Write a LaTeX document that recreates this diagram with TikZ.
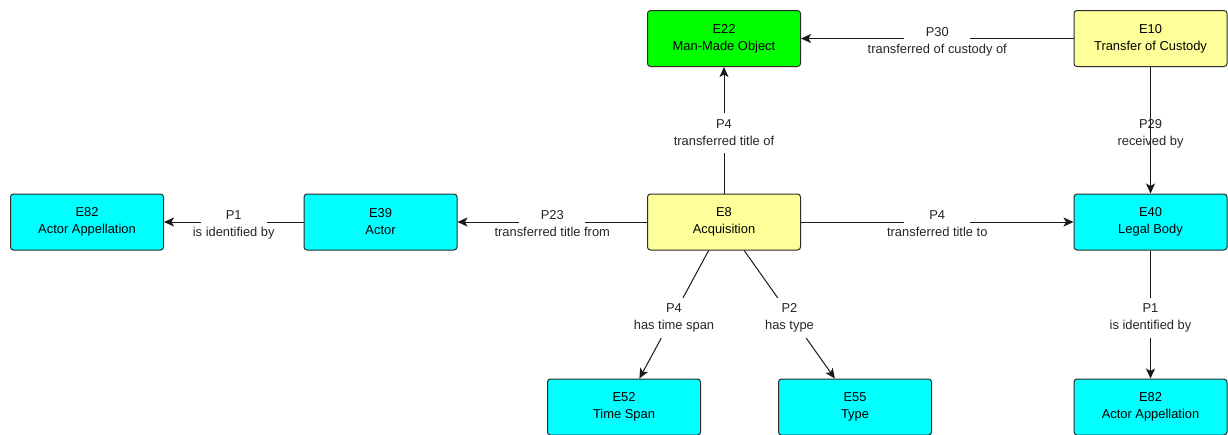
\documentclass[tikz,border=0pt]{standalone}
\usepackage{fontspec}
\setmainfont{Liberation Sans}
\usepackage{tikz}
\usetikzlibrary{arrows.meta}
\definecolor{objc}{HTML}{00FF00}
\definecolor{evtc}{HTML}{FFFF99}
\definecolor{entc}{HTML}{00FFFF}
\definecolor{edgec}{HTML}{2B2B2B}
\newcommand{\prop}[2]{\makebox[0pt]{\begin{tabular}{@{}c@{}}#1\\#2\end{tabular}}}
\tikzset{
  ent/.style={draw=edgec,line width=1pt,rounded corners=3pt,minimum width=153pt,minimum height=56pt,align=center,inner sep=0pt,font=\fontsize{12.9}{17}\selectfont,execute at begin node=\rule{0pt}{15pt}},
  ar/.style={-{Stealth[length=10pt,width=9pt,inset=2.5pt]},line width=1pt,black!90},
  rel/.style={fill=white,minimum width=66pt,minimum height=40pt,inner sep=0pt,yshift=-3pt,font=\fontsize{12.9}{17}\selectfont,text=black!85},
  relclear/.style={rel,fill=none}
}
\begin{document}
\begin{tikzpicture}[x=1pt,y=-1pt]
\path[use as bounding box,fill=white] (0,0) rectangle (1228,434);
% classes
\foreach \nm/\px/\py/\fc/\cd/\ttl in {
  e22/724/38.5/objc/E22/Man-Made Object,
  e10/1150.5/38.5/evtc/E10/Transfer of Custody,
  e82l/87/222/entc/E82/Actor Appellation,
  e39/380.5/222/entc/E39/Actor,
  e8/724/222/evtc/E8/Acquisition,
  e40/1150.5/222/entc/E40/Legal Body,
  e52/624/407/entc/E52/Time Span,
  e55/855/407/entc/E55/Type,
  e82r/1150.5/407/entc/E82/Actor Appellation}
  \node[ent,fill=\fc] (\nm) at (\px,\py) {\cd\\\ttl};
% properties
\draw[ar] (e10) -- node[rel] (p30) {\prop{P30}{transferred of custody of}} (e22);
\draw[ar] (e8) -- node[rel] (p4a) {\prop{P4}{transferred title of}} (e22);
\draw[ar] (e10) -- node[relclear] (p29) {\prop{P29}{received by}} (e40);
\draw[ar] (e39) -- node[rel] (p1a) {\prop{P1}{is identified by}} (e82l);
\draw[ar] (e8) -- node[rel] (p23) {\prop{P23}{transferred title from}} (e39);
\draw[ar] (e8) -- node[rel] (p4b) {\prop{P4}{transferred title to}} (e40);
\draw[ar] (e8) -- node[rel] (p4c) {\prop{P4}{has time span}} (e52);
\draw[ar] (e8) -- node[rel] (p2) {\prop{P2}{has type}} (e55);
\draw[ar] (e40) -- node[rel] (p1b) {\prop{P1}{is identified by}} (e82r);
\end{tikzpicture}
\end{document}
